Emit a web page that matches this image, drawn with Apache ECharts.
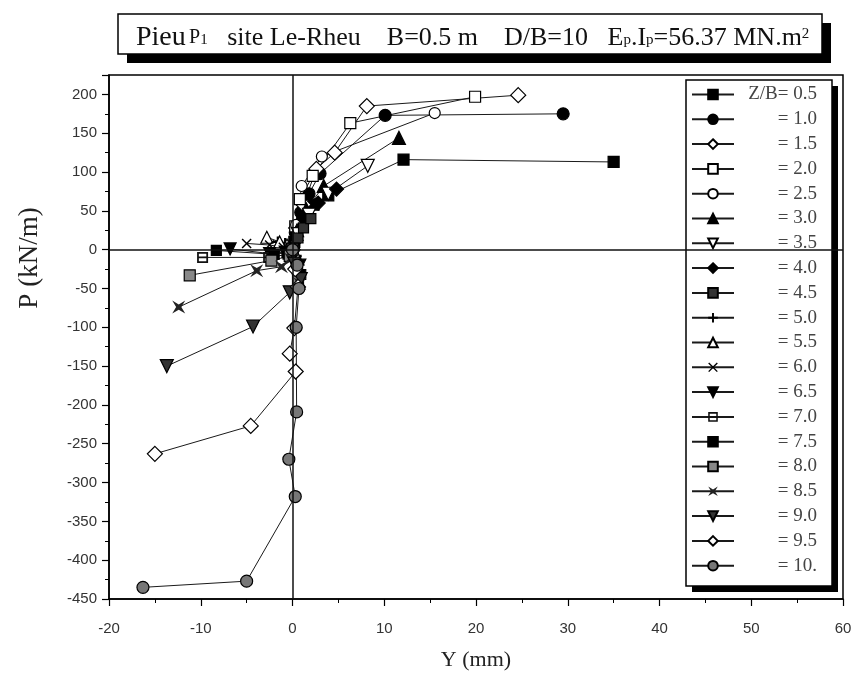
<!DOCTYPE html>
<html><head><meta charset="utf-8">
<script src="https://cdn.jsdelivr.net/npm/echarts@6/dist/echarts.min.js"></script>
<style>html,body{margin:0;padding:0;background:#fff;}#c{width:861px;height:676px;}</style>
</head><body><div id="c"></div>
<script>
// ---- data (Y in mm, P in kN/m) ----
const seriesNames = ["Z/B= 0.5","= 1.0","= 1.5","= 2.0","= 2.5","= 3.0","= 3.5","= 4.0","= 4.5","= 5.0",
  "= 5.5","= 6.0","= 6.5","= 7.0","= 7.5","= 8.0","= 8.5","= 9.0","= 9.5","= 10."];
const zb05 = [[0,0],[0.2,10],[0.5,22],[1.1,40],[2.3,58],[3.9,70],[12.1,116],[35.0,113]];
const zb10 = [[0,0],[0.3,22],[0.9,48],[1.8,72],[3.0,98],[10.1,173],[29.5,175]];
const zb15 = [[0,0],[0.4,28],[1.2,58],[2.6,104],[4.6,125],[8.1,185],[24.6,199]];
const zb20 = [[0,0],[0.3,30],[0.8,65],[2.2,95],[6.3,163],[19.9,197]];
const zb25 = [[0,0],[0.4,32],[1.0,82],[3.2,120],[15.5,176]];
const zb30 = [[0,0],[0.5,25],[1.5,52],[3.4,82],[11.6,144]];
const zb35 = [[0,0],[0.6,20],[1.8,45],[3.9,72],[8.2,108]];
const zb40 = [[0,0],[0.4,12],[1.4,38],[2.8,60],[4.8,78]];
const zb45 = [[0,0],[0.2,5],[0.6,15],[1.2,28],[2.0,40]];
const zb50 = [[0,0],[0.4,-8],[-0.3,5],[-0.8,8],[-1.6,10]];
const zb55 = [[0,0],[0.6,-12],[-0.6,6],[-1.4,10],[-2.8,16]];
const zb60 = [[0,0],[0.3,-15],[-1.0,3],[-2.5,6],[-5.0,8]];
const zb65 = [[0,0],[0.8,-20],[-0.8,-3],[-2.5,-5],[-6.8,1]];
const zb70 = [[0,0],[0.5,-25],[-0.5,-6],[-2.6,-10],[-9.8,-10]];
const zb75 = [[0,0],[0.9,-32],[-0.6,-4],[-2.0,-6],[-8.3,-1]];
const zb80 = [[0,0],[0.6,-38],[-0.3,-8],[-2.3,-14],[-11.2,-33]];
const zb85 = [[0,0],[0.8,-44],[-0.2,-12],[-1.2,-22],[-3.9,-27],[-12.4,-74]];
const zb90 = [[0,0],[0.2,-18],[0.9,-38],[-0.3,-55],[-4.3,-99],[-13.7,-150]];
const zb95 = [[0,0],[0.3,-25],[0.6,-48],[0.2,-101],[-0.3,-134],[0.35,-157],[-4.55,-227],[-15.0,-263]];
const zb100 = [[0,0],[0.5,-20],[0.7,-50],[0.4,-100],[0.45,-209],[-0.4,-270],[0.3,-318],[-5.0,-427],[-16.3,-435]];
const allData = [zb05,zb10,zb15,zb20,zb25,zb30,zb35,zb40,zb45,zb50,zb55,zb60,zb65,zb70,zb75,zb80,zb85,zb90,zb95,zb100];
const xTicks = {min:-20, max:60, step:10};
const yTicks = {min:-450, max:225, step:50};

// ---- marker styles ----
const P_PLUS = 'path://M4,0 H6 V4 H10 V6 H6 V10 H4 V6 H0 V4 H4 Z';
const P_X = 'path://M1,0 L5,4 L9,0 L10,1 L6,5 L10,9 L9,10 L5,6 L1,10 L0,9 L4,5 L0,1 Z';
const P_BOW = 'path://M0,0 L5,3 L10,0 L7,5 L10,10 L5,7 L0,10 L3,5 Z';
const P_SQBAR = 'path://M0,0 H10 V10 H0 Z M1.6,1.6 V8.4 H8.4 V1.6 Z M1.6,4.2 H8.4 V5.8 H1.6 Z';
const styles = [
  {s:'rect', sz:11, fill:'#000'},
  {s:'circle', sz:12, fill:'#000'},
  {s:'diamond', sz:15, fill:'#fff'},
  {s:'rect', sz:11, fill:'#fff'},
  {s:'circle', sz:11, fill:'#fff'},
  {s:'triangle', sz:13, fill:'#000'},
  {s:'triangle', sz:13, fill:'#fff', rot:180},
  {s:'diamond', sz:14, fill:'#000'},
  {s:'rect', sz:10, fill:'#333'},
  {s:P_PLUS, sz:11, fill:'#000', path:true},
  {s:'triangle', sz:12, fill:'#fff'},
  {s:P_X, sz:10, fill:'#000', path:true},
  {s:'triangle', sz:12, fill:'#000', rot:180},
  {s:P_SQBAR, sz:11, fill:'#111', path:true},
  {s:'rect', sz:10, fill:'#000'},
  {s:'rect', sz:11, fill:'#888'},
  {s:P_BOW, sz:13, fill:'#222', path:true},
  {s:'triangle', sz:13, fill:'#333', rot:180},
  {s:'diamond', sz:15, fill:'#fff'},
  {s:'circle', sz:12, fill:'#777'}
];

const chart = echarts.init(document.getElementById('c'), null, {renderer:'canvas'});
const series = [{
  type:'line', data:[], silent:true, z:1,
  markLine:{silent:true, symbol:'none', animation:false,
    lineStyle:{color:'#111', width:1.5, type:'solid'}, label:{show:false},
    data:[{xAxis:0},{yAxis:0}]}
}];
allData.forEach((d,i)=>{
  const st = styles[i];
  series.push({
    name: seriesNames[i], type:'line', data:d, z:2,
    symbol: st.s, symbolSize: st.sz, symbolRotate: st.rot||0, symbolKeepAspect:true,
    showAllSymbol:true,
    lineStyle:{color:'#1a1a1a', width:1},
    itemStyle:{color: st.fill, borderColor:'#000', borderWidth: st.path?0:1.2},
    emphasis:{disabled:true}
  });
});

const serif = 'Liberation Serif';
chart.setOption({
  animation:false,
  backgroundColor:'#fff',
  grid:{left:109, right:18, top:75, bottom:76, show:true, borderColor:'#000', borderWidth:1.5, backgroundColor:'transparent'},
  xAxis:{type:'value', min:xTicks.min, max:xTicks.max, interval:xTicks.step,
    axisLine:{show:true, onZero:false, lineStyle:{color:'#000', width:1.5}},
    axisTick:{show:true, length:7, lineStyle:{color:'#000', width:1.2}},
    minorTick:{show:true, splitNumber:2, length:4, lineStyle:{color:'#000', width:1}},
    splitLine:{show:false},
    axisLabel:{fontFamily:'Liberation Sans', fontSize:15, color:'#333', margin:22},
    name:'Y (mm)', nameLocation:'middle', nameGap:50,
    nameTextStyle:{fontFamily:serif, fontSize:22, color:'#222'}
  },
  yAxis:{type:'value', min:yTicks.min, max:yTicks.max, interval:yTicks.step,
    axisLine:{show:true, onZero:false, lineStyle:{color:'#000', width:1.5}},
    axisTick:{show:true, length:7, lineStyle:{color:'#000', width:1.2}},
    minorTick:{show:true, splitNumber:2, length:4, lineStyle:{color:'#000', width:1}},
    splitLine:{show:false},
    axisLabel:{fontFamily:'Liberation Sans', fontSize:15, color:'#333', margin:12,
      formatter:(v)=> (v>200 ? '' : String(v))}
  },
  legend:{
    orient:'vertical', left:691, top:85,
    data: seriesNames,
    itemWidth:42, itemHeight:12, itemGap:5.8,
    padding:[0,0,0,0],
    selectedMode:false,
    formatter:(n)=>'{t|'+n+'}',
    textStyle:{rich:{t:{width:78, height:19, lineHeight:19, align:'right', fontFamily:serif, fontSize:19, color:'#444'}}}
  },
  graphic:[
    {type:'rect', z:3, shape:{x:692, y:86, width:146, height:506}, style:{fill:'#000'}},
    {type:'rect', z:3, shape:{x:686, y:80, width:146, height:506}, style:{fill:'#fff', stroke:'#000', lineWidth:1.5}},
    {type:'rect', z:3, shape:{x:127, y:23, width:704, height:40}, style:{fill:'#000'}},
    {type:'rect', z:3, shape:{x:118, y:14, width:704, height:40}, style:{fill:'#fff', stroke:'#000', lineWidth:1.5}},
    {type:'text', z:4, x:136, y:34, style:{
      text:'{big|Pieu} {s|P}{sub|1}{n|   site Le-Rheu    B=0.5 m    D/B=10   E}{sub|p}{n|.I}{sub|p}{n|=56.37 MN.m}{sup|2}',
      verticalAlign:'middle', fill:'#111',
      rich:{
        big:{fontFamily:serif, fontSize:28, fill:'#111', height:30, verticalAlign:'bottom'},
        s:{fontFamily:serif, fontSize:20, fill:'#111', height:30, verticalAlign:'bottom'},
        n:{fontFamily:serif, fontSize:26, fill:'#111', height:30, verticalAlign:'bottom'},
        sub:{fontFamily:serif, fontSize:15, fill:'#111', height:26, verticalAlign:'bottom'},
        sup:{fontFamily:serif, fontSize:15, fill:'#111', height:38, verticalAlign:'top'}
      }}},
    {type:'text', z:4, x:30, y:258, rotation:Math.PI/2, style:{
      text:'P (kN/m)', fontFamily:serif, fontSize:27, fill:'#222', align:'center', verticalAlign:'middle'}}
  ],
  series: series
});
</script></body></html>
